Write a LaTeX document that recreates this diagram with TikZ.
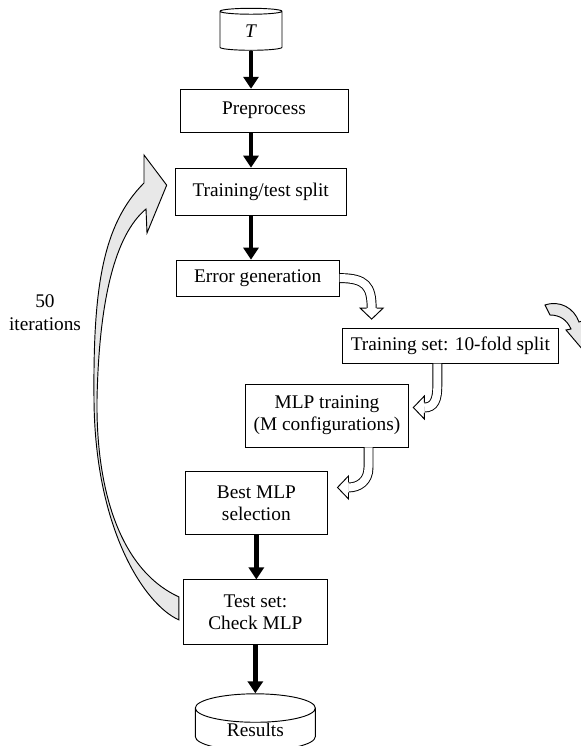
\documentclass[tikz,border=0pt]{standalone}
\usepackage{fontspec}
\setmainfont{Liberation Serif}
\usetikzlibrary{positioning, arrows.meta, shapes.geometric, calc}

% open arrow head for the hollow bent arrows (base point, direction)
\newcommand{\openhead}[2]{%
  \begin{scope}[shift={#1}, rotate=#2]
    \fill[white] (0,-11.5) -- (11,0) -- (0,11.5) -- cycle;
    \draw[line width=0.8pt, line join=miter] (0,-5) -- (0,-11.5) -- (11,0) -- (0,11.5) -- (0,5);
  \end{scope}}

\begin{document}
\begin{tikzpicture}[
    x=0.03cm, y=-0.03cm,
    box/.style={
      draw, line width=0.8pt, align=center, inner sep=0pt,
      font=\fontsize{16.5}{19}\selectfont
    },
    db/.style={
      draw, line width=0.8pt, cylinder, shape border rotate=90,
      inner sep=0pt, font=\fontsize{16.5}{19}\selectfont
    },
    flow/.style={-{Triangle[length=0.36cm, width=0.45cm]}, line width=0.14cm},
    hollow/.style={double=white, double distance=0.24cm, line width=0.8pt},
    recycle/.style={fill=black!9, line width=0.8pt, line join=miter},
]
    \useasboundingbox (0,0) rectangle (581,746);

    % Main column
    \node[db, aspect=0.5, minimum width=1.86cm, minimum height=1.26cm] (T) at (251,31) {\textit{T}};
    \node[box, minimum width=5.04cm, minimum height=1.29cm, below=1.14cm of T, xshift=0.39cm] (prep) {Preprocess};
    \node[box, minimum width=5.13cm, minimum height=1.41cm, below=1.05cm of prep, xshift=-0.1cm] (split) {Training/test split};
    \node[box, minimum width=4.89cm, minimum height=1.08cm, below=1.32cm of split, xshift=-0.09cm] (err) {Error generation};
    \node[box, minimum width=6.48cm, minimum height=1.05cm, below=0.93cm of err, xshift=5.78cm] (tset) {Training set: 10-fold split};
    \node[box, minimum width=4.89cm, minimum height=1.89cm, below=0.6cm of tset, xshift=-3.7cm] (mlp) {MLP training\\(M configurations)};
    \node[box, minimum width=4.26cm, minimum height=1.89cm, below=0.72cm of mlp, xshift=-2.12cm] (best) {Best MLP\\selection};
    \node[box, minimum width=4.32cm, minimum height=1.95cm, below=1.32cm of best, xshift=-0.03cm] (test) {Test set:\\Check MLP};
    \node[db, aspect=0.5, minimum width=3.6cm, minimum height=1.71cm, below=1.44cm of test] (res) {Results};

    \draw[flow] (T.south) -- (T.south |- prep.north);
    \draw[flow] (prep.south -| T.south) -- (T.south |- split.north);
    \draw[flow] (split.south -| T.south) -- (T.south |- err.north);
    \draw[flow] (best.south) -- (best.south |- test.north);
    \draw[flow] (test.south) -- (test.south |- res.north);

    % Hollow bent arrows
    \draw[hollow] (err.east) .. controls +(26,0) and +(0,-22) .. +(32,30) coordinate (h1);
    \openhead{(h1)}{-90}
    \draw[hollow] ($(tset.south)+(-13,0)$) -- ++(0,22) .. controls +(0,14) and +(10,0) .. ++(-13,22) coordinate (h2);
    \openhead{(h2)}{180}
    \draw[hollow] ($(mlp.south)+(41.5,0)$) -- ++(0,20) .. controls +(0,14) and +(10,0) .. ++(-20,20) coordinate (h3);
    \openhead{(h3)}{180}

    % Loop back
    \coordinate (lpB) at ($(test.west)+(-4,7.5)$);
    \coordinate (lpT) at ($(test.west)+(-4,-15.5)$);
    \coordinate (tip) at ($(split.west)+(-8,-6.5)$);
    \filldraw[recycle] (lpB) .. controls (145,605) and (95,530) .. (94,400)
      .. controls (93,290) and (102,225) .. (144,183)
      -- (144,155) -- (tip) -- (147,233) -- (146,209)
      .. controls (115,235) and (99,300) .. (97,400)
      .. controls (96,490) and (120,570) .. (lpT) -- cycle;
    \node[align=center, font=\fontsize{16.5}{19.5}\selectfont] (iter) at (45,313) {50\\iterations};

    % Cut-off arrow at the right edge
    \filldraw[recycle] (545,305) .. controls (560,300) and (574,308) .. (579,322)
      -- (592,318) -- (583,350) -- (566,330) -- (571,329)
      .. controls (567,320) and (560,315) .. (550,315) -- cycle;
\end{tikzpicture}
\end{document}
